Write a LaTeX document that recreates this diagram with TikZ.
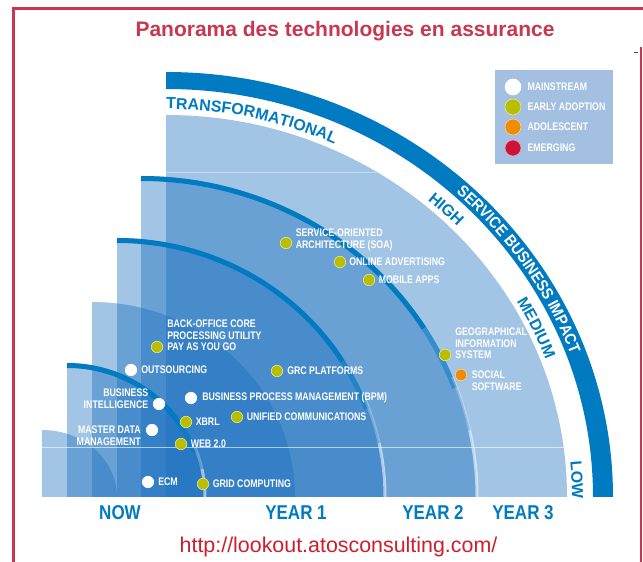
\documentclass[tikz,border=0pt]{standalone}
\usepackage{fontspec}
\setmainfont{Liberation Sans}
\newfontfamily\condfont[FakeStretch=0.85]{Liberation Sans}
\newfontfamily\lblfont[FakeStretch=0.8]{Liberation Sans}
\newfontfamily\bandfont[FakeStretch=0.9]{Liberation Sans}
\usetikzlibrary{positioning,decorations.text}

\definecolor{bandblue}{RGB}{0,122,192}
\definecolor{regionblue}{RGB}{22,108,190}
\definecolor{legendfill}{RGB}{163,191,225}
\definecolor{earlycol}{RGB}{186,190,0}
\definecolor{adolcol}{RGB}{240,140,0}
\definecolor{emergcol}{RGB}{205,20,55}
\definecolor{titlered}{RGB}{200,55,80}
\definecolor{urlred}{RGB}{205,30,45}

\newcommand\arcfont{\bfseries\fontsize{16}{18}\selectfont}
\newcommand\bandtext{\bandfont\bfseries\fontsize{16}{18}\selectfont}

\begin{document}
\begin{tikzpicture}[x=1pt,y=1pt,
	region/.style={fill=regionblue, fill opacity=0.4},
	arcband/.style={draw=bandblue, line width=5pt},
	glow/.style={draw=white, line width=3pt},
	dot/.style={circle, minimum size=11.5pt, inner sep=0pt, line width=0.6pt},
	mainstream/.style={dot, fill=white, draw=white},
	early/.style={dot, fill=earlycol, draw=earlycol!40!white},
	adolescent/.style={dot, fill=adolcol, draw=adolcol!40!white},
	emerging/.style={dot, fill=emergcol, draw=emergcol!40!white},
	lbl/.style={text=white, inner sep=0pt, align=left, font=\lblfont\bfseries\fontsize{11}{11.5}\selectfont},
	year/.style={text=bandblue, anchor=base, font=\condfont\bfseries\fontsize{20}{24}\selectfont}]
	\useasboundingbox (0,-65) rectangle (643,497);

	% nested horizons
	\foreach \x/\rx/\ry in {42/75/67, 67/138/134, 92/203/195, 117/268/259, 141/336/321, 166/401/382}
		\fill[region] (\x,0) -- (\x,\ry) arc[start angle=90, end angle=0, x radius=\rx pt, y radius=\ry pt] -- cycle;

	% dark edges on some horizons
	\foreach \x/\rx/\ry in {67/135.5/131.5, 117/265.5/256.5, 141/333.5/318.5} {
		\draw[arcband] (\x,\ry) arc[start angle=90, end angle=32, x radius=\rx pt, y radius=\ry pt] coordinate (m);
		\draw[arcband, draw opacity=0.5] (m) arc[start angle=32, end angle=20, x radius=\rx pt, y radius=\ry pt];
	}
	\foreach \x/\rx/\ry in {67/138/134, 117/268/259, 141/336/321} {
		\draw[glow, draw opacity=0.25] (\x,0) ++(22:\rx pt and \ry pt) arc[start angle=22, end angle=12, x radius=\rx pt, y radius=\ry pt];
		\draw[glow, draw opacity=0.55] (\x,0) ++(12:\rx pt and \ry pt) arc[start angle=12, end angle=0, x radius=\rx pt, y radius=\ry pt];
	}
	\draw[white, opacity=0.6, line width=0.6pt] (42,50) -- (612,50);
	\draw[white, opacity=0.4, line width=0.6pt] (166,325) -- (376,325);

	% impact band
	\fill[bandblue] (166,425) arc[start angle=90, end angle=0, x radius=447pt, y radius=425pt]
		-- (593,0) arc[start angle=0, end angle=90, x radius=427pt, y radius=408pt] -- cycle;
	\path[decorate, decoration={text along path, text color=white, text align=center,
		text={|\bandtext|SERVICE BUSINESS IMPACT}}]
		(166,0) ++(50:431.5pt and 411pt) arc[start angle=50, end angle=18, x radius=431.5pt, y radius=411pt];
	\path[decorate, decoration={text along path, text color=bandblue, text align=left,
		text={|\arcfont|TRANSFORMATIONAL}}]
		(166,388) arc[start angle=90, end angle=40, x radius=406pt, y radius=388pt];
	\path[decorate, decoration={text along path, text color=bandblue, text align=center,
		text={|\arcfont|HIGH}}]
		(166,0) ++(55:406pt and 388pt) arc[start angle=55, end angle=39, x radius=406pt, y radius=388pt];
	\path[decorate, decoration={text along path, text color=bandblue, text align=center,
		text={|\arcfont|MEDIUM}}]
		(166,0) ++(35:406pt and 388pt) arc[start angle=35, end angle=16, x radius=406pt, y radius=388pt];
	\path[decorate, decoration={text along path, text color=bandblue, text align=center,
		text={|\arcfont|LOW}}]
		(166,0) ++(9:406pt and 388pt) arc[start angle=9, end angle=-4, x radius=406pt, y radius=388pt];

	% legend
	\node[fill=legendfill, minimum width=118pt, minimum height=94pt, inner sep=0pt, anchor=north west] (legend) at (495,427) {};
	\node[mainstream, minimum size=16pt] (lg1) at (513,410) {};
	\node[early, minimum size=16pt] (lg2) at (513,390) {};
	\node[adolescent, minimum size=16pt] (lg3) at (513,370) {};
	\node[emerging, minimum size=16pt] (lg4) at (513,349) {};
	\node[lbl, right=6pt of lg1] (lg1-t) {MAINSTREAM};
	\node[lbl, right=6pt of lg2] (lg2-t) {EARLY ADOPTION};
	\node[lbl, right=6pt of lg3] (lg3-t) {ADOLESCENT};
	\node[lbl, right=6pt of lg4] (lg4-t) {EMERGING};

	% technologies
	\node[early] (soa) at (286,254) {};
	\node[early] (oa) at (340,235) {};
	\node[early] (mob) at (369,217) {};
	\node[early] (bo) at (157,150) {};
	\node[mainstream] (out) at (131,127) {};
	\node[early] (grc) at (277,126) {};
	\node[early] (gis) at (445,142) {};
	\node[adolescent] (soc) at (461,122) {};
	\node[mainstream] (bi) at (159,93) {};
	\node[mainstream] (bpm) at (191,99) {};
	\node[early] (xbrl) at (186,75) {};
	\node[early] (uc) at (237,80) {};
	\node[mainstream] (mdm) at (152,67) {};
	\node[early] (web) at (181,53) {};
	\node[mainstream] (ecm) at (148,15) {};
	\node[early] (grid) at (203,13) {};

	\node[lbl, right=3.5pt of soa, yshift=3pt] (soa-t) {SERVICE-ORIENTED\\ARCHITECTURE (SOA)};
	\node[lbl, right=3pt of oa] (oa-t) {ONLINE ADVERTISING};
	\node[lbl, right=3.5pt of mob] (mob-t) {MOBILE APPS};
	\node[lbl, right=4pt of bo, yshift=11.5pt] (bo-t) {BACK-OFFICE CORE\\PROCESSING UTILITY\\PAY AS YOU GO};
	\node[lbl, right=4pt of out] (out-t) {OUTSOURCING};
	\node[lbl, right=4pt of grc] (grc-t) {GRC PLATFORMS};
	\node[lbl, right=4pt of gis, yshift=11.5pt] (gis-t) {GEOGRAPHICAL\\INFORMATION\\SYSTEM};
	\node[lbl, right=4.5pt of soc, yshift=-5.75pt] (soc-t) {SOCIAL\\SOFTWARE};
	\node[lbl, align=right, left=4.5pt of bi, yshift=5.5pt] (bi-t) {BUSINESS\\INTELLIGENCE};
	\node[lbl, right=5pt of bpm] (bpm-t) {BUSINESS PROCESS MANAGEMENT (BPM)};
	\node[lbl, right=3.5pt of xbrl] (xbrl-t) {XBRL};
	\node[lbl, right=3.5pt of uc] (uc-t) {UNIFIED COMMUNICATIONS};
	\node[lbl, align=right, left=5pt of mdm, yshift=-5.5pt] (mdm-t) {MASTER DATA\\MANAGEMENT};
	\node[lbl, right=3.5pt of web] (web-t) {WEB 2.0};
	\node[lbl, right=4pt of ecm] (ecm-t) {ECM};
	\node[lbl, right=3.5pt of grid] (grid-t) {GRID COMPUTING};

	% time axis
	\node[year] (now) at (120,-23) {NOW};
	\node[year] (y1) at (296,-23) {YEAR 1};
	\node[year] (y2) at (433,-23) {YEAR 2};
	\node[year] (y3) at (523,-23) {YEAR 3};

	\node[anchor=base, text=titlered, font=\bfseries\fontsize{21}{25}\selectfont] (title) at (345,460) {Panorama des technologies en assurance};
	\node[anchor=base, text=urlred, font=\fontsize{21.4}{25}\selectfont] (url) at (338.5,-56) {http://lookout.atosconsulting.com/};

	% frame
	\draw[titlered, line width=3pt] (13,-65) -- (13,488) -- (643,488);
	\draw[titlered, line width=2pt] (641,450) -- (641,-65);
	\draw[black!70, line width=0.6pt] (634,445) -- (638,445);
\end{tikzpicture}
\end{document}
